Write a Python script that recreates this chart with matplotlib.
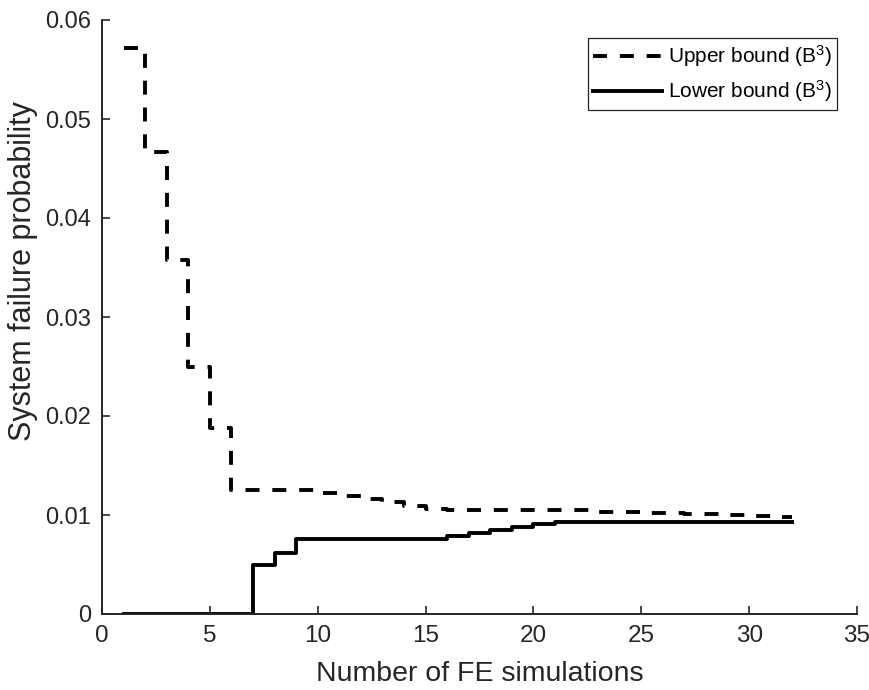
import matplotlib
matplotlib.use("Agg")
import matplotlib.pyplot as plt

plt.rcParams["font.family"] = ["Liberation Sans", "DejaVu Sans"]
plt.rcParams["mathtext.fontset"] = "custom"
plt.rcParams["mathtext.rm"] = "Liberation Sans"
plt.rcParams["mathtext.default"] = "rm"

n_sims = list(range(1, 33))
upper = [0.0572, 0.0467, 0.0358, 0.0249, 0.0188, 0.0125, 0.0125, 0.0125, 0.0125,
         0.0122, 0.0119, 0.0116, 0.0113, 0.0109, 0.0106, 0.0105, 0.0105, 0.0105,
         0.0105, 0.0105, 0.0105, 0.0105, 0.01035, 0.0103, 0.0102, 0.0102, 0.0101,
         0.0101, 0.0100, 0.0099, 0.0098, 0.0098]
lower = [0, 0, 0, 0, 0, 0, 0.0049, 0.0062, 0.00756, 0.00756, 0.00756, 0.00756,
         0.00756, 0.00756, 0.00756, 0.0079, 0.0082, 0.0085, 0.0088, 0.0091, 0.0093,
         0.0093, 0.0093, 0.0093, 0.0093, 0.0093, 0.0093, 0.0093, 0.0093, 0.0093,
         0.0093, 0.0093]

xticks = [0, 5, 10, 15, 20, 25, 30, 35]
yticks = [0, 0.01, 0.02, 0.03, 0.04, 0.05, 0.06]
ytick_labels = ["0", "0.01", "0.02", "0.03", "0.04", "0.05", "0.06"]

ink = "#262626"

fig = plt.figure(figsize=(8.7, 6.9), dpi=100)
ax = fig.add_axes([102 / 870, 1 - 614 / 690, 755 / 870, 594 / 690])

ax.plot(n_sims, upper, drawstyle="steps-post", color="black", lw=2.8,
        linestyle=(0, (3.6, 3.3)), label="Upper bound (B$^{3}$)")
ax.plot(n_sims, lower, drawstyle="steps-post", color="black", lw=2.8,
        label="Lower bound (B$^{3}$)")

ax.set_xlim(0, 35)
ax.set_ylim(0, 0.06)
ax.set_xticks(xticks)
ax.set_yticks(yticks)
ax.set_yticklabels(ytick_labels)
ax.tick_params(direction="in", length=6, width=1.2, colors=ink, pad=8)
ax.tick_params(axis="x", labelsize=17.5)
ax.tick_params(axis="y", labelsize=17)
for s in ["top", "right"]:
    ax.spines[s].set_visible(False)
for s in ["left", "bottom"]:
    ax.spines[s].set_color(ink)
    ax.spines[s].set_linewidth(1.4)

ax.set_xlabel("Number of FE simulations", fontsize=20.5, color=ink, labelpad=10)
ax.set_ylabel("System failure probability", fontsize=22, color=ink)
ax.yaxis.set_label_coords((38 - 102) / 755, (614 - 271) / 594)

leg = ax.legend(loc="upper right", bbox_to_anchor=(837 / 870, 1 - 38 / 690),
                bbox_transform=fig.transFigure, fontsize=15, handlelength=3.3,
                handletextpad=0.3, borderpad=0.25, labelspacing=0.45,
                borderaxespad=0, fancybox=False, framealpha=1, edgecolor=ink)
leg.get_frame().set_linewidth(0.9)

fig.savefig("out.png", dpi=100, facecolor="white")
